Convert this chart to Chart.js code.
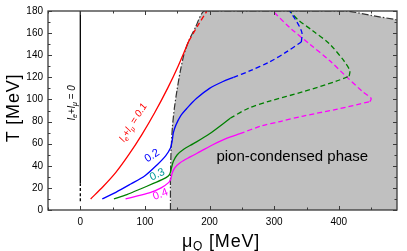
<!DOCTYPE html>
<html><head><meta charset="utf-8">
<script src="https://cdn.jsdelivr.net/npm/chart.js@4/dist/chart.umd.min.js"></script>
<style>html,body{margin:0;padding:0;background:#fff;overflow:hidden}canvas{display:block}</style>
</head><body>
<canvas id="c" width="407" height="251"></canvas>
<script>
// ---- axis ticks ----
const xTicks = [0, 100, 200, 300, 400];
const xMinor = [-50, 50, 150, 250, 350, 450];
const yTicks = [0, 20, 40, 60, 80, 100, 120, 140, 160, 180];
const yMinor = [10, 30, 50, 70, 90, 110, 130, 150, 170];

// ---- pion-condensed phase boundary (mu_Q, T) ----
const boundary = [[139.5,0],[139.5,30],[140.5,55],[142.5,75],[145.5,92],[149.5,108],[154.5,125],[160,140],[167,152],[178,165],[192,180],[300,180],[411,180],[450,176],[490,172]];

// ---- lepton-number curves ----
const redSolid = [[16,10],[35,21],[55,34],[75,50],[95,68],[115,88],[135,110],[152,131],[168,153]];
const redDash  = [[168,153],[182,167],[196,180]];
const blueSolid = [[34,10],[55,16],[78,23.5],[100,31],[119,41],[132,49],[139.5,56],[142,62],[144,70],[148,77],[155,85],[165,92],[180,101],[200,110],[220,116],[237,120]];
const blueDashOut = [[237,120],[263,126],[293,134],[319,143],[342,152]];
const blueDashBack = [[342,152],[343,160],[339,166],[332,173],[324,180]];
const greenSolid = [[52,10],[72,14],[93,19],[113,24],[132,29],[138,32],[141,38],[144,44],[150,50],[160,55],[175,60],[200,69],[232,83]];
const greenDashOut = [[232,83],[260,92],[293,98.5],[345,107],[396,116.5],[416,121]];
const greenDashBack = [[416,121],[417,126],[409,134],[386,150],[360,162],[337,172],[324,180]];
const magSolid = [[70,10],[90,13],[109,16],[125,20],[137,25],[140,28],[142,33],[146,38],[155,43],[170,48],[186,53],[205,59],[227,65],[247,69]];
const magDashOut = [[247,69],[280,76],[309,80],[345,85],[396,91],[448,98]];
const magDashBack = [[448,98],[450,101],[437,107],[411,121],[386,135],[355,150],[324,165],[298,180]];
const zeroLine = [[0,24],[0,180]];
const zeroLineDash = [[0,8],[0,24]];

// ---- labels ----
const curveLabels = ['0.2', '0.3', '0.4'];
const curveLabelMu = [111, 119, 124];
const curveLabelT = [49, 32, 14];
const curveLabelAngle = [-32, -26, -20];
const curveLabelColor = ['#0000ff', '#009999', '#ff00ff'];
const redLabelPos = [82, 79];
const zeroLabelPos = [-13, 97];
const phaseLabel = 'pion-condensed phase';
const phaseLabelPos = [328, 48.5];

const pts = a => a.map(p => ({x: p[0], y: p[1]}));
const RED = '#ff0000', BLUE = '#0000ff', GREEN = '#008000', MAG = '#ff00ff';
const DASH = [5, 3];
function line(data, color, dash, order) {
  return {data: pts(data), showLine: true, borderColor: color, borderWidth: 1.3, borderDash: dash || [],
    pointRadius: 0, tension: 0.3, fill: false, order: order || 0};
}
const datasets = [
  {data: pts(boundary), showLine: true, borderColor: '#333333', borderWidth: 1.2, borderDash: [7,2,1.5,2],
   backgroundColor: '#c0c0c0', fill: 'start', pointRadius: 0, tension: 0.2, order: 10},
  line(redSolid, RED), line(redDash, RED, DASH),
  line(blueSolid, BLUE), line(blueDashOut, BLUE, DASH), line(blueDashBack, BLUE, DASH),
  line(greenSolid, GREEN), line(greenDashOut, GREEN, DASH), line(greenDashBack, GREEN, DASH),
  line(magSolid, MAG), line(magDashOut, MAG, DASH), line(magDashBack, MAG, DASH),
  line(zeroLine, '#000000'), line(zeroLineDash, '#000000', [3,2])
];

const FONT = '"Liberation Sans", Arial, Helvetica, sans-serif';

function drawParts(ctx, parts, size, align) {
  let w = 0;
  const fs = s => s ? 'italic ' + Math.round(size*0.7) + 'px ' + FONT : 'italic ' + size + 'px ' + FONT;
  parts.forEach(p => { ctx.font = fs(p[1]); w += ctx.measureText(p[0]).width; });
  let x = align === 'center' ? -w/2 : 0;
  parts.forEach(p => {
    ctx.font = fs(p[1]);
    ctx.fillText(p[0], x, p[1] ? size*0.3 : 0);
    x += ctx.measureText(p[0]).width;
  });
}

const deco = {
  id: 'deco',
  afterDatasetsDraw(chart) {
    const {ctx, scales: {x, y}} = chart;
    ctx.save();
    ctx.textBaseline = 'middle';
    curveLabels.forEach((t, i) => {
      ctx.save();
      ctx.translate(x.getPixelForValue(curveLabelMu[i]), y.getPixelForValue(curveLabelT[i]));
      ctx.rotate(curveLabelAngle[i] * Math.PI / 180);
      ctx.fillStyle = curveLabelColor[i];
      ctx.font = '11px ' + FONT;
      ctx.textAlign = 'center';
      ctx.fillText(t, 0, 0);
      ctx.restore();
    });
    ctx.save();
    ctx.translate(x.getPixelForValue(redLabelPos[0]), y.getPixelForValue(redLabelPos[1]));
    ctx.rotate(-58 * Math.PI / 180);
    ctx.fillStyle = RED;
    ctx.textAlign = 'left';
    drawParts(ctx, [['l',0],['e',1],['+l',0],['\u03bc',1],[' = 0.1',0]], 10, 'center');
    ctx.restore();
    ctx.save();
    ctx.translate(x.getPixelForValue(zeroLabelPos[0]), y.getPixelForValue(zeroLabelPos[1]));
    ctx.rotate(-Math.PI / 2);
    ctx.fillStyle = '#000';
    ctx.textAlign = 'left';
    drawParts(ctx, [['l',0],['e',1],['+l',0],['\u03bc',1],[' = 0',0]], 10, 'center');
    ctx.restore();
    ctx.fillStyle = '#000';
    ctx.font = '15px ' + FONT;
    ctx.textAlign = 'center';
    ctx.fillText(phaseLabel, x.getPixelForValue(phaseLabelPos[0]), y.getPixelForValue(phaseLabelPos[1]));
    ctx.restore();
  },
  afterDraw(chart) {
    const {ctx, chartArea: a, scales: {x, y}} = chart;
    ctx.save();
    ctx.strokeStyle = '#3a3a3a';
    ctx.lineWidth = 1.3;
    ctx.strokeRect(a.left, a.top, a.right - a.left, a.bottom - a.top);
    ctx.lineWidth = 1;
    ctx.beginPath();
    const tx = (v, len) => { const p = Math.round(x.getPixelForValue(v)) + 0.5;
      ctx.moveTo(p, a.bottom); ctx.lineTo(p, a.bottom - len);
      ctx.moveTo(p, a.top); ctx.lineTo(p, a.top + len); };
    const ty = (v, len) => { const p = Math.round(y.getPixelForValue(v)) + 0.5;
      ctx.moveTo(a.left, p); ctx.lineTo(a.left + len, p);
      ctx.moveTo(a.right, p); ctx.lineTo(a.right - len, p); };
    xTicks.forEach(v => tx(v, 4)); xMinor.forEach(v => tx(v, 2.5));
    yTicks.forEach(v => ty(v, 4)); yMinor.forEach(v => ty(v, 2.5));
    ctx.stroke();
    ctx.fillStyle = '#000';
    ctx.textBaseline = 'middle';
    try { ctx.letterSpacing = '0.8px'; } catch (e) {}
    ctx.save();
    ctx.translate(14, 108);
    ctx.rotate(-Math.PI / 2);
    ctx.font = '18px ' + FONT;
    ctx.textAlign = 'center';
    ctx.fillText('T [MeV]', 0, 0);
    ctx.restore();
    ctx.textBaseline = 'alphabetic';
    ctx.textAlign = 'left';
    ctx.font = '18px ' + FONT;
    const w1 = ctx.measureText('\u03bc').width;
    const w3 = ctx.measureText(' [MeV]').width;
    ctx.font = '12px ' + FONT;
    const w2 = ctx.measureText('Q').width;
    let sx = 221 - (w1 + w2 + w3) / 2;
    const base = 247;
    ctx.font = '18px ' + FONT; ctx.fillText('\u03bc', sx, base); sx += w1;
    ctx.font = '12px ' + FONT; ctx.fillText('Q', sx, base + 3); sx += w2;
    ctx.font = '18px ' + FONT; ctx.fillText(' [MeV]', sx, base);
    ctx.restore();
  }
};

new Chart(document.getElementById('c'), {
  type: 'scatter',
  data: {datasets},
  options: {
    responsive: false, animation: false, devicePixelRatio: 1,
    layout: {padding: {top: 6, right: 10, left: 0, bottom: 0}},
    plugins: {legend: {display: false}, tooltip: {enabled: false}},
    scales: {
      x: {type: 'linear', min: -50, max: 490,
        afterBuildTicks: s => { s.ticks = xTicks.map(v => ({value: v})); },
        grid: {display: false, drawTicks: false}, border: {display: false},
        ticks: {color: '#000', font: {size: 10, family: FONT}, padding: 6, maxRotation: 0},
        afterFit: s => { s.height = 41; }},
      y: {type: 'linear', min: 0, max: 180,
        afterBuildTicks: s => { s.ticks = yTicks.map(v => ({value: v})); },
        grid: {display: false, drawTicks: false}, border: {display: false},
        ticks: {color: '#000', font: {size: 10, family: FONT}, padding: 5},
        afterFit: s => { s.width = 48; }}
    }
  },
  plugins: [deco]
});
</script>
</body></html>
